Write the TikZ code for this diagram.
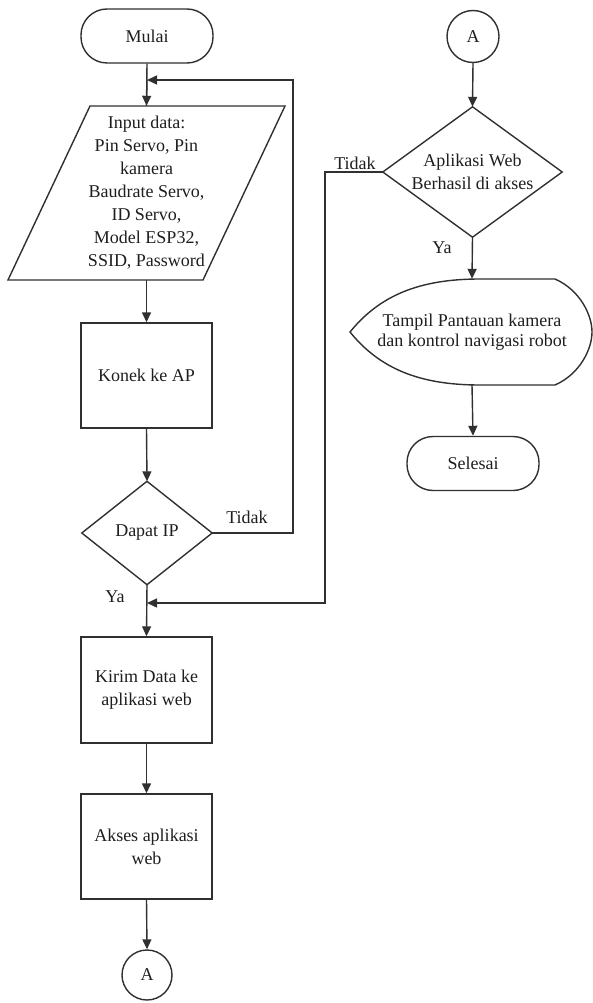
\documentclass[tikz,border=0pt]{standalone}
\usepackage{fontspec}
\setmainfont{Liberation Serif}
\usetikzlibrary{arrows.meta}
\definecolor{linec}{HTML}{303030}
\definecolor{txtc}{HTML}{1E1E1E}
\begin{document}
\begin{tikzpicture}[x=1pt,y=-1pt,
  every node/.style={text=txtc, font=\fontsize{18}{23}\selectfont},
  ln/.style={draw=linec, line width=1.4pt},
  arr/.style={ln, -{Triangle[length=10pt,width=9pt]}},
  terminal/.style={ln, rectangle, rounded corners=26pt, minimum width=132pt, minimum height=54pt, inner sep=0pt},
  proc/.style={ln, rectangle, minimum width=131pt, minimum height=105pt, align=center, inner sep=0pt},
  box/.style={rectangle, inner sep=0pt, align=center},
  conn/.style={ln, circle, inner sep=0pt},
  lbl/.style={inner sep=0pt}
]
\useasboundingbox (0,0) rectangle (593,1003);

% left column
\node[terminal] (mulai) at (147,36) {Mulai};
\node[box, minimum width=120pt, minimum height=174pt] (input) at (146.5,193)
  {Input data:\\Pin Servo, Pin\\kamera\\Baudrate Servo,\\ID Servo,\\Model ESP32,\\SSID, Password};
\draw[ln, shift={(input.center)}] (-56.5,-87) -- (138.5,-87) -- (56.5,87) -- (-138.5,87) -- cycle;
\node[proc] (konek) at (146.5,375.5) {Konek ke AP};
\node[box, minimum width=130pt, minimum height=103pt] (ip) at (147,533) {Dapat IP};
\draw[ln] (ip.north) -- (ip.east) -- (ip.south) -- (ip.west) -- cycle;
\node[proc, minimum height=106pt] (kirim) at (146.5,690) {Kirim Data ke\\aplikasi web};
\node[proc] (akses) at (146.5,846.5) {Akses aplikasi\\web};
\node[conn, minimum size=50pt] (a1) at (147,975) {A};

% right column
\node[conn, minimum size=52pt] (a2) at (473,36.5) {A};
\node[box, minimum width=179pt, minimum height=130pt] (web) at (472.5,172) {Aplikasi Web\\Berhasil di akses};
\draw[ln] (web.north) -- (web.east) -- (web.south) -- (web.west) -- cycle;
\node[box, minimum width=200pt, minimum height=106pt, font=\fontsize{18}{20}\selectfont] (disp) at (472,332)
  {Tampil Pantauan kamera\\dan kontrol navigasi robot};
\draw[ln, shift={(disp.center)}] (-122,0) .. controls (-92,-37) and (-52,-53) .. (8,-53) -- (83,-53)
  .. controls (108,-42) and (120,-17) .. (120,0) .. controls (120,17) and (108,42) .. (83,53)
  -- (8,53) .. controls (-52,53) and (-92,37) .. (-122,0) -- cycle;
\node[terminal] (selesai) at (473,463.5) {Selesai};

% helper coordinates
\coordinate (loopR) at (293,533);
\coordinate (loopT) at (293,80);
\coordinate (loopIn) at (147,80);
\coordinate (mergeL) at (325,172);
\coordinate (mergeB) at (325,603);
\coordinate (mergeIn) at (147,603);

% connectors
\draw[ln] (mulai.south) -- (input.north);
\draw[arr] (loopIn) -- (input.north);
\draw[arr] (ip.east) -- (loopR) -- (loopT) -- (loopIn);
\draw[arr] (input.south) -- (konek.north);
\draw[arr] (konek.south) -- (ip.north);
\draw[arr] (ip.south) -- (kirim.north);
\draw[arr] (web.west) -- (mergeL) -- (mergeB) -- (mergeIn);
\draw[arr] (kirim.south) -- (akses.north);
\draw[arr] (akses.south) -- (a1.north);
\draw[arr] (a2.south) -- (web.north);
\draw[arr] (web.south) -- (disp.north);
\draw[arr] (disp.south) -- (selesai.north);

% labels
\node[lbl] at (247,517) {Tidak};
\node[lbl] at (115,597) {Ya};
\node[lbl] at (355,163) {Tidak};
\node[lbl] at (442,248) {Ya};
\end{tikzpicture}
\end{document}
